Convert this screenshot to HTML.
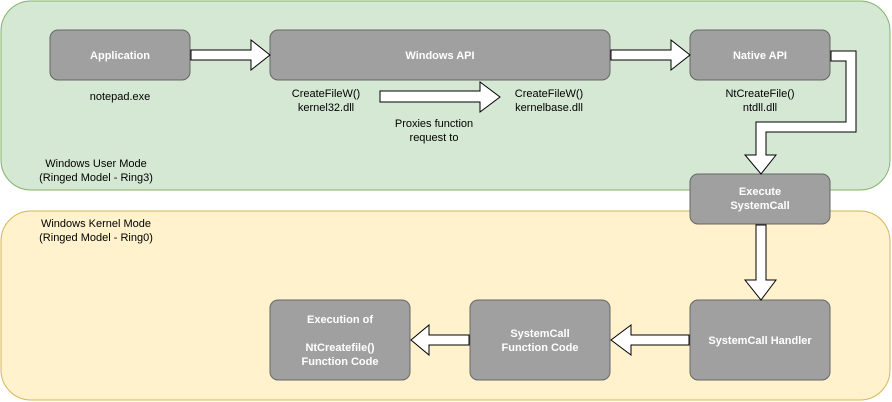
<!DOCTYPE html>
<html><head><style>
body{margin:0;width:892px;height:402px;background:#fff;position:relative;overflow:hidden;font-family:"Liberation Sans",Arial,sans-serif;}
.t{position:absolute;font-size:11px;color:#000;text-align:center;line-height:13px;}
</style></head><body>
<svg width="892" height="402" style="position:absolute;left:0;top:0" font-family="Liberation Sans, Arial, sans-serif">
<rect x="1" y="1" width="889" height="189" rx="30" fill="#d5e8d4" stroke="#82b366"/>
<rect x="1" y="211" width="889" height="189" rx="30" fill="#fff2cc" stroke="#d6b656"/>
<g fill="#a0a0a0" stroke="#666" stroke-width="1">
<rect x="50" y="30" width="140" height="50" rx="8"/>
<rect x="270" y="30" width="340" height="50" rx="8"/>
<rect x="690" y="30" width="140" height="50" rx="8"/>
<rect x="690" y="174" width="140" height="50" rx="8"/>
<rect x="690" y="300" width="140" height="80" rx="8"/>
<rect x="470" y="300" width="140" height="80" rx="8"/>
<rect x="270" y="300" width="140" height="80" rx="8"/>
</g>
<g fill="#fff" stroke="#000" stroke-width="1">
<path d="M191 50H251V40L270 55L251 70V60H191Z"/>
<path d="M611 50H671V40L690 55L671 70V60H611Z"/>
<path d="M380 91H480V82L500 97L480 112V102H380Z"/>
<path d="M831 51H856V132H766V155H776L761 174L745 155H756V122H846V61H831Z"/>
<path d="M756 225H766V280H776L761 300L745 280H756Z"/>
<path d="M689 335H631V325L611 340L631 355V345H689Z"/>
<path d="M469 335H429V325L411 340L429 355V345H469Z"/>
</g>
<g fill="#fff" font-size="11" font-weight="bold" text-anchor="middle">
<text x="120" y="59">Application</text>
<text x="440" y="59">Windows API</text>
<text x="760" y="59">Native API</text>
<text x="760" y="195">Execute</text>
<text x="760" y="209">SystemCall</text>
<text x="760" y="344">SystemCall Handler</text>
<text x="540" y="337">SystemCall</text>
<text x="540" y="351">Function Code</text>
<text x="340" y="323">Execution of</text>
<text x="340" y="351">NtCreatefile()</text>
<text x="340" y="365">Function Code</text>
</g>
<g fill="#000" font-size="11" text-anchor="middle">
<text x="120" y="100">notepad.exe</text>
<text x="326" y="97">CreateFileW()</text>
<text x="326" y="111">kernel32.dll</text>
<text x="549" y="97">CreateFileW()</text>
<text x="549" y="111">kernelbase.dll</text>
<text x="434" y="127">Proxies function</text>
<text x="434" y="141">request to</text>
<text x="760" y="97">NtCreateFile()</text>
<text x="760" y="111">ntdll.dll</text>
<text x="96" y="167">Windows User Mode</text>
<text x="96" y="181">(Ringed Model - Ring3)</text>
<text x="96" y="227">Windows Kernel Mode</text>
<text x="96" y="241">(Ringed Model - Ring0)</text>
</g>
</svg>
</body></html>
